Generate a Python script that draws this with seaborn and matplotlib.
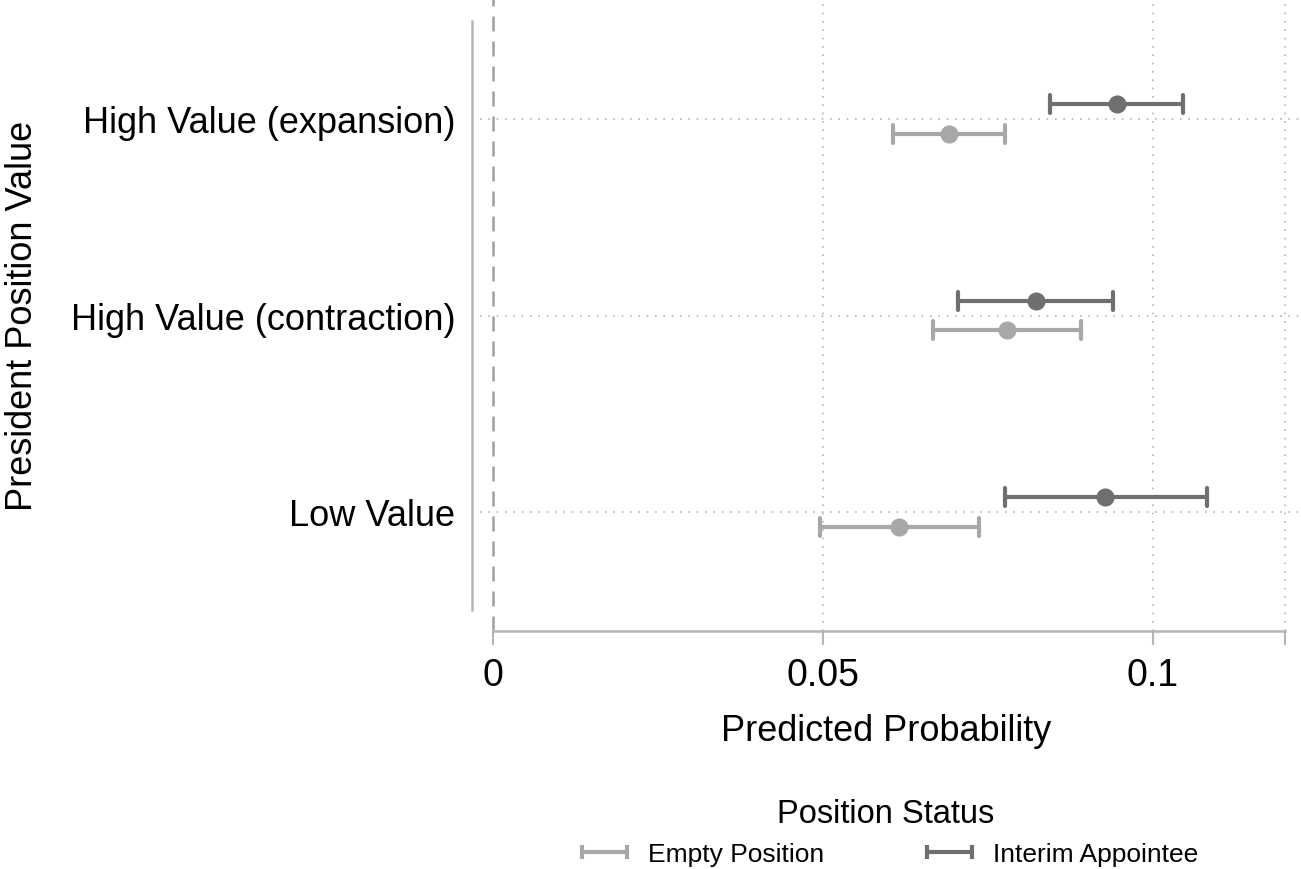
import numpy as np
import pandas as pd
import matplotlib
matplotlib.use("Agg")
import matplotlib.pyplot as plt
import seaborn as sns
from matplotlib.lines import Line2D

# ---- data ----
categories = ["High Value (expansion)", "High Value (contraction)", "Low Value"]
statuses = ["Interim Appointee", "Empty Position"]
interim_est = [0.0945, 0.0823, 0.0927]
interim_lo = [0.0844, 0.0705, 0.0776]
interim_hi = [0.1045, 0.0939, 0.1082]
empty_est = [0.0691, 0.0779, 0.0615]
empty_lo = [0.0606, 0.0667, 0.0495]
empty_hi = [0.0776, 0.0891, 0.0736]
xticks = [0, 0.05, 0.1, 0.12]
xticklabels = ["0", "0.05", "0.1", ""]

rows = []
for status, lo, est, hi in [("Interim Appointee", interim_lo, interim_est, interim_hi),
                            ("Empty Position", empty_lo, empty_est, empty_hi)]:
    for c, l, e, h in zip(categories, lo, est, hi):
        for v in (l, e, h):
            rows.append({"cat": c, "status": status, "value": v})
df = pd.DataFrame(rows)

sns.set_theme(style="white")
plt.rcParams["font.family"] = ["Liberation Sans", "DejaVu Sans"]
plt.rcParams["text.color"] = "black"
plt.rcParams["axes.labelcolor"] = "black"
plt.rcParams["xtick.color"] = "black"
plt.rcParams["ytick.color"] = "black"

W, H = 1301, 870
fig = plt.figure(figsize=(W / 100, H / 100), dpi=100)
ax = fig.add_axes([472 / W, 1 - 632 / H, 829 / W, 632 / H])

dark = "#6f6f6f"
light = "#a8a8aa"
palette = {"Interim Appointee": dark, "Empty Position": light}

sns.pointplot(data=df, x="value", y="cat", hue="status", order=categories,
              hue_order=statuses, palette=palette,
              estimator=np.median, errorbar=lambda v: (v.min(), v.max()),
              dodge=0.15, linestyle="none", markers="o", markersize=11,
              capsize=0.09, err_kws={"linewidth": 3}, ax=ax, legend=False)

ax.set_xlim((472 - 493) / 6600, (1301 - 493) / 6600)
ax.set_ylim((632 - 120) / 196.5, (0 - 120) / 196.5)

# grid
for xv in [0.05, 0.1, 0.12]:
    ax.axvline(xv, color="#b5b5b5", linestyle=(0, (1, 4)), linewidth=1.2, zorder=0)
for yi in range(len(categories)):
    ax.axhline(yi, xmin=8 / 829, color="#b5b5b5", linestyle=(0, (1, 4)), linewidth=1.2, zorder=0)
ax.axvline(0, color="#a0a0a0", linestyle=(0, (6, 4)), linewidth=1.8, zorder=0)

for s in ["top", "right"]:
    ax.spines[s].set_visible(False)
ax.spines["left"].set_bounds(-0.5, 2.5)
ax.spines["left"].set_color("#b5b5b5")
ax.spines["left"].set_linewidth(1.8)
ax.spines["bottom"].set_bounds(0, 0.12)
ax.spines["bottom"].set_color("#b5b5b5")
ax.spines["bottom"].set_linewidth(1.8)

ax.set_xticks(xticks)
ax.set_xticklabels(xticklabels)
ax.tick_params(axis="x", length=10, width=1.5, color="#b5b5b5", labelcolor="black",
               labelsize=27, pad=9, bottom=True)
ax.tick_params(axis="y", length=0, labelsize=26, pad=12, labelcolor="black")
ax.set_xlabel("Predicted Probability", fontsize=26, labelpad=14)
ax.set_ylabel("President Position Value", fontsize=26)
ax.yaxis.set_label_coords((40 - 472) / 829, 0.5)

handles = [Line2D([0, 1], [0, 0], color=light, lw=3, marker="|", markersize=10, mew=3),
           Line2D([0, 1], [0, 0], color=dark, lw=3, marker="|", markersize=10, mew=3)]
fig.legend(handles, ["Empty Position", "Interim Appointee"], loc="center",
           bbox_to_anchor=(886 / W, 1 - 833 / H), ncol=2, frameon=False,
           title="Position Status", title_fontsize=23.5, fontsize=19,
           numpoints=2, handlelength=2.3, columnspacing=3.6, handletextpad=0.5)

fig.savefig("out.png", dpi=100)
